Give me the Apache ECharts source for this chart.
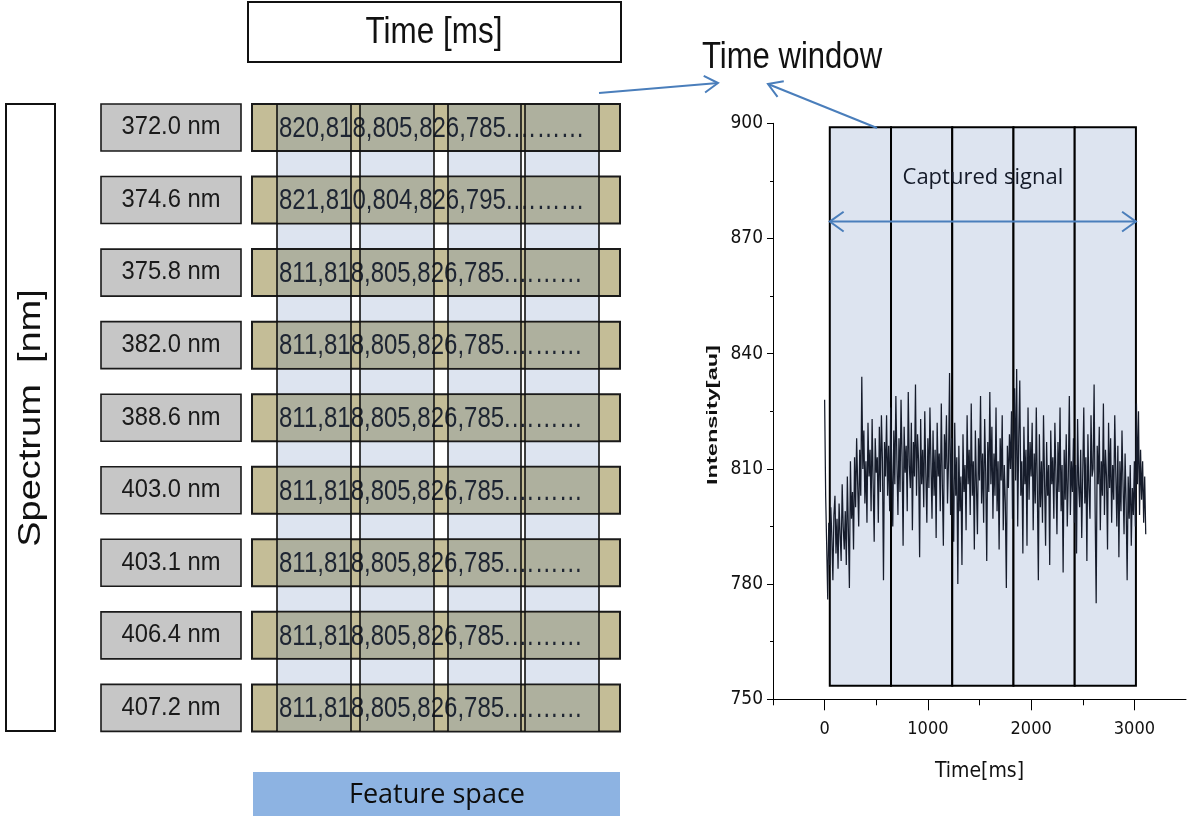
<!DOCTYPE html>
<html>
<head>
<meta charset="utf-8">
<script src="https://cdn.jsdelivr.net/npm/echarts@6/dist/echarts.min.js"></script>
<style>
  html, body { margin: 0; padding: 0; background: #ffffff; }
  #chart { width: 1188px; height: 816px; }
</style>
</head>
<body>
<div id="chart"></div>
<script>
// ---- Feature grid: emission lines and the first readings of each time window ----
const wavelengthsNm = [372.0, 374.6, 375.8, 382.0, 388.6, 403.0, 403.1, 406.4, 407.2];
const rowSamples = [
  [820, 818, 805, 826, 785],
  [821, 810, 804, 826, 795],
  [811, 818, 805, 826, 785],
  [811, 818, 805, 826, 785],
  [811, 818, 805, 826, 785],
  [811, 818, 805, 826, 785],
  [811, 818, 805, 826, 785],
  [811, 818, 805, 826, 785],
  [811, 818, 805, 826, 785]
];

// ---- Intensity trace, one reading every SAMPLE_MS ----
const SAMPLE_MS = 10;
const intensityAu = [
  828, 803, 790, 776, 796, 785, 800, 792, 781, 798, 803, 788, 797, 784, 801, 793, 786, 806, 795, 789,
  799, 785, 808, 794, 779, 812, 797, 804, 789, 813, 800, 818, 806, 795, 815, 803, 834, 810, 820, 801,
  812, 796, 822, 808, 815, 799, 823, 806, 791, 818, 809, 813, 796, 821, 804, 824, 812, 781, 817, 808,
  824, 803, 816, 799, 826, 810, 795, 820, 806, 829, 812, 798, 818, 804, 828, 813, 790, 821, 809, 816,
  799, 830, 811, 805, 822, 794, 817, 808, 832, 803, 819, 812, 787, 823, 806, 815, 800, 825, 809, 796,
  818, 805, 826, 811, 797, 820, 803, 815, 792, 822, 808, 814, 799, 827, 806, 790, 819, 810, 824, 801,
  812, 835, 798, 818, 806, 791, 822, 803, 813, 780, 816, 799, 808, 785, 819, 804, 811, 794, 824, 806,
  815, 798, 827, 803, 812, 789, 820, 806, 793, 818, 807, 829, 801, 814, 796, 823, 809, 786, 817, 804,
  830, 806, 821, 797, 814, 803, 826, 799, 812, 789, 818, 807, 824, 794, 811, 801, 779, 816, 805, 819,
  810, 825, 797, 816, 831, 807, 836, 795, 818, 833, 803, 812, 788, 821, 806, 815, 790, 826, 802, 817,
  808, 822, 794, 814, 801, 826, 805, 781, 819, 800, 812, 796, 824, 807, 790, 817, 803, 811, 785, 820,
  806, 813, 797, 822, 809, 793, 817, 804, 826, 799, 811, 783, 815, 802, 819, 795, 808, 829, 798, 812,
  804, 818, 796, 811, 788, 823, 806, 800, 815, 792, 809, 826, 801, 813, 786, 819, 805, 797, 824, 808,
  810, 832, 799, 775, 816, 806, 821, 794, 812, 803, 827, 798, 815, 808, 789, 822, 805, 818, 796, 811,
  802, 824, 809, 795, 816, 787, 812, 799, 820, 806, 793, 814, 801, 781, 808, 797, 811, 790, 805, 798,
  812, 795, 827, 806, 825, 798, 815, 802, 812, 796, 808, 793
];

// ---- Time windows laid over the captured signal ----
const windowEdgesMs = [50, 643, 1236, 1829, 2422, 3015];
const windowIntensityRange = [753.5, 899];
const capturedArrowAu = 874.4;
const capturedLabelAu = 885.8;

// ---- Axis ticks ----
const xTickLabels = [0, 1000, 2000, 3000];
const xMinorTicks = [-500, 500, 1500, 2500];
const yRange = [750, 900];
const yStep = 30;
const xRange = [-500, 3500];

const NARROW = "'Liberation Sans Narrow','Arial Narrow','DejaVu Sans Condensed',sans-serif";
const SANS = "'Liberation Sans',Arial,sans-serif";
const SOFT = "'Open Sans','Noto Sans',sans-serif";
const ARROW_BLUE = '#4a7ebb';

// Horizontal layout of the feature grid (vertical placement comes from the category axis)
const LEFT = {
  labelX: 101, labelW: 140,
  barX: 252, barW: 368,
  rowH: 47,
  textX: 279,
  cols: [[277, 351], [360, 434], [448, 521], [525, 599]]
};

function chevron(tip, tail, len, ang) {
  const dx = tail[0] - tip[0], dy = tail[1] - tip[1];
  const a = Math.atan2(dy, dx);
  return [
    [tip[0] + len * Math.cos(a + ang), tip[1] + len * Math.sin(a + ang)],
    tip,
    [tip[0] + len * Math.cos(a - ang), tip[1] + len * Math.sin(a - ang)]
  ];
}

function arrowGraphic(tail, tip) {
  return [
    { type: 'polyline', z: 20, shape: { points: [tail, tip] },
      style: { stroke: ARROW_BLUE, lineWidth: 2, fill: null } },
    { type: 'polyline', z: 20, shape: { points: chevron(tip, tail, 16, 0.55) },
      style: { stroke: ARROW_BLUE, lineWidth: 2, fill: null } }
  ];
}

const wavelengthLabels = wavelengthsNm.map(w => w.toFixed(1) + ' nm');

const chart = echarts.init(document.getElementById('chart'), null, { renderer: 'canvas' });

const option = {
  backgroundColor: '#ffffff',
  animation: false,
  grid: [
    { left: 773, top: 123.3, width: 413, height: 576, outerBoundsMode: 'none', containLabel: false },
    { left: 0, top: 91.2, width: 1188, height: 653, outerBoundsMode: 'none', containLabel: false }
  ],
  xAxis: [
    {
      gridIndex: 0, type: 'value', min: xRange[0], max: xRange[1], position: 'bottom',
      axisLine: { show: true, onZero: false, lineStyle: { color: '#000', width: 1 } },
      axisTick: { show: true, customValues: xTickLabels, length: 11, lineStyle: { color: '#000' } },
      axisLabel: { show: true, customValues: xTickLabels, margin: 21, fontSize: 18, fontFamily: NARROW, color: '#111',
        formatter: v => String(v) },
      splitLine: { show: false },
      name: 'Time[ms]', nameLocation: 'middle', nameGap: 62,
      nameTextStyle: { fontSize: 21, fontFamily: NARROW, color: '#111' }
    },
    {
      gridIndex: 0, type: 'value', min: xRange[0], max: xRange[1], position: 'bottom',
      axisLine: { show: false, onZero: false },
      axisTick: { show: true, customValues: xMinorTicks, length: 6, lineStyle: { color: '#000' } },
      axisLabel: { show: false },
      splitLine: { show: false }
    },
    { gridIndex: 1, type: 'value', min: 0, max: 1, show: false }
  ],
  yAxis: [
    {
      gridIndex: 0, type: 'value', min: yRange[0], max: yRange[1], interval: yStep,
      axisLine: { show: true, onZero: false, lineStyle: { color: '#000', width: 1 } },
      axisTick: { show: true, length: 6, lineStyle: { color: '#000' } },
      minorTick: { show: true, splitNumber: 2, length: 3, lineStyle: { color: '#000' } },
      axisLabel: { margin: 10, fontSize: 19, fontFamily: NARROW, color: '#111' },
      splitLine: { show: false }
    },
    { gridIndex: 1, type: 'category', data: wavelengthLabels, inverse: true, show: false }
  ],
  graphic: [
    // Spectrum axis box
    { type: 'rect', z: 5, shape: { x: 6, y: 104, width: 49, height: 627 },
      style: { fill: '#fff', stroke: '#111', lineWidth: 2 } },
    { type: 'text', z: 6, x: 31, y: 418, rotation: Math.PI / 2, scaleY: 0.82,
      style: { text: 'Spectrum  [nm]', font: '38px ' + SANS, fill: '#111', align: 'center', verticalAlign: 'middle' } },
    // Time axis box
    { type: 'rect', z: 5, shape: { x: 248, y: 2, width: 373, height: 60 },
      style: { fill: '#fff', stroke: '#111', lineWidth: 2 } },
    { type: 'text', z: 6, x: 434, y: 33, scaleX: 0.85,
      style: { text: 'Time [ms]', font: '37px ' + SANS, fill: '#111', align: 'center', verticalAlign: 'middle' } },
    // Time window caption and pointers
    { type: 'text', z: 6, x: 792, y: 58, scaleX: 0.84,
      style: { text: 'Time window', font: '37px ' + SANS, fill: '#111', align: 'center', verticalAlign: 'middle' } },
    ...arrowGraphic([599, 93], [718, 83]),
    ...arrowGraphic([877, 128], [768, 84]),
    // Feature space banner
    { type: 'rect', z: 5, shape: { x: 253, y: 772, width: 367, height: 50 },
      style: { fill: '#8db3e2' } },
    { type: 'text', z: 6, x: 437, y: 795,
      style: { text: 'Feature space', font: '27px ' + SOFT, fill: '#0d0d0d', align: 'center', verticalAlign: 'middle' } },
    // Intensity axis title
    { type: 'text', z: 6, x: 713, y: 415, rotation: Math.PI / 2, scaleX: 1.12, scaleY: 0.72,
      style: { text: 'Intensity[au]', font: 'bold 21px ' + SANS, fill: '#111', align: 'center', verticalAlign: 'middle' } }
  ],
  series: [
    // Window boxes behind the trace
    {
      type: 'custom', xAxisIndex: 0, yAxisIndex: 0, z: 1, silent: true,
      data: windowEdgesMs.slice(0, -1).map((s, i) => [s, windowEdgesMs[i + 1]]),
      encode: { x: [0, 1] },
      renderItem: function (params, api) {
        const p0 = api.coord([api.value(0), windowIntensityRange[1]]);
        const p1 = api.coord([api.value(1), windowIntensityRange[0]]);
        return {
          type: 'rect',
          shape: { x: p0[0], y: p0[1], width: p1[0] - p0[0], height: p1[1] - p0[1] },
          style: { fill: '#dde4f0', stroke: '#000', lineWidth: 2 }
        };
      }
    },
    // Captured signal
    {
      type: 'line', xAxisIndex: 0, yAxisIndex: 0, z: 3,
      data: intensityAu.map((v, i) => [i * SAMPLE_MS, v]),
      showSymbol: false, symbol: 'none', sampling: null,
      lineStyle: { color: '#161c2b', width: 1.25 },
      silent: true
    },
    // Span arrow and caption of the captured signal
    {
      type: 'custom', xAxisIndex: 0, yAxisIndex: 0, z: 4, silent: true,
      data: [[windowEdgesMs[0], windowEdgesMs[windowEdgesMs.length - 1]]],
      encode: { x: [0, 1] },
      renderItem: function (params, api) {
        const a = api.coord([api.value(0), capturedArrowAu]);
        const b = api.coord([api.value(1), capturedArrowAu]);
        const t = api.coord([(api.value(0) + api.value(1)) / 2, capturedLabelAu]);
        return {
          type: 'group',
          children: [
            { type: 'polyline', shape: { points: [a, b] }, style: { stroke: ARROW_BLUE, lineWidth: 2, fill: null } },
            { type: 'polyline', shape: { points: chevron(a, b, 17, 0.62) }, style: { stroke: ARROW_BLUE, lineWidth: 2, fill: null } },
            { type: 'polyline', shape: { points: chevron(b, a, 17, 0.62) }, style: { stroke: ARROW_BLUE, lineWidth: 2, fill: null } },
            { type: 'text', x: t[0], y: t[1],
              style: { text: 'Captured signal', font: '22px ' + SOFT, fill: '#141a28', align: 'center', verticalAlign: 'middle' } }
          ]
        };
      }
    },
    // Feature grid: time-window columns
    {
      type: 'custom', xAxisIndex: 2, yAxisIndex: 1, z: 1, silent: true,
      data: [[0, 0, wavelengthLabels.length - 1]],
      encode: { x: 0, y: 1 },
      renderItem: function (params, api) {
        const top = api.coord([0, api.value(1)])[1] - LEFT.rowH / 2;
        const bottom = api.coord([0, api.value(2)])[1] + LEFT.rowH / 2;
        return {
          type: 'group',
          children: LEFT.cols.map(c => ({
            type: 'rect', shape: { x: c[0], y: top, width: c[1] - c[0], height: bottom - top },
            style: { fill: '#dde4f0' }
          }))
        };
      }
    },
    // Feature grid: one bar per emission line
    {
      type: 'custom', xAxisIndex: 2, yAxisIndex: 1, z: 2, silent: true,
      data: wavelengthLabels.map((w, i) => [0, i]),
      encode: { x: 0, y: 1 },
      renderItem: function (params, api) {
        const i = api.value(1);
        const cy = api.coord([0, i])[1];
        const top = cy - LEFT.rowH / 2;
        const children = [
          { type: 'rect', shape: { x: LEFT.labelX, y: top, width: LEFT.labelW, height: LEFT.rowH },
            style: { fill: '#c6c6c6', stroke: '#1a1a1a', lineWidth: 1.6 } },
          { type: 'text', x: LEFT.labelX + LEFT.labelW / 2, y: cy, scaleX: 0.95,
            style: { text: wavelengthLabels[i], font: '25px ' + SANS, fill: '#1a1a1a', align: 'center', verticalAlign: 'middle' } },
          { type: 'rect', shape: { x: LEFT.barX, y: top, width: LEFT.barW, height: LEFT.rowH },
            style: { fill: '#c4bd97', stroke: '#1a1a1a', lineWidth: 2 } }
        ];
        LEFT.cols.forEach(c => children.push({
          type: 'rect', shape: { x: c[0], y: top + 1, width: c[1] - c[0], height: LEFT.rowH - 2 },
          style: { fill: '#aeb09e' }
        }));
        children.push({
          type: 'text', x: LEFT.textX, y: cy + 1, scaleX: 0.8,
          style: { text: rowSamples[i].join(',') + '.\u2026\u2026\u2026', font: '30px ' + SANS, fill: '#1e2532', align: 'left', verticalAlign: 'middle' }
        });
        return { type: 'group', children: children };
      }
    },
    // Feature grid: column borders drawn across all rows
    {
      type: 'custom', xAxisIndex: 2, yAxisIndex: 1, z: 3, silent: true,
      data: [[0, 0, wavelengthLabels.length - 1]],
      encode: { x: 0, y: 1 },
      renderItem: function (params, api) {
        const top = api.coord([0, api.value(1)])[1] - LEFT.rowH / 2;
        const bottom = api.coord([0, api.value(2)])[1] + LEFT.rowH / 2;
        const lines = [];
        LEFT.cols.forEach(c => {
          [c[0], c[1]].forEach(x => lines.push({
            type: 'line', shape: { x1: x, y1: top, x2: x, y2: bottom },
            style: { stroke: '#111', lineWidth: 1.6 }
          }));
        });
        return { type: 'group', children: lines };
      }
    }
  ]
};

chart.setOption(option);
</script>
</body>
</html>
